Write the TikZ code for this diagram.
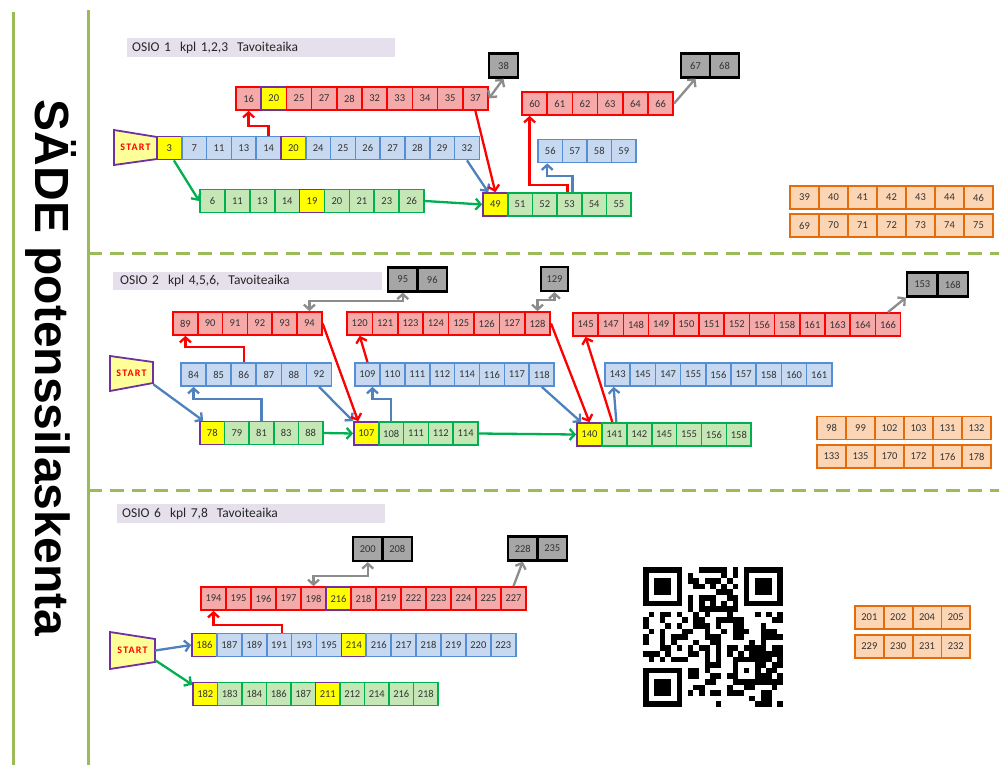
\documentclass[tikz,border=0pt]{standalone}
\usepackage{fontspec}
\setmainfont{Carlito}
\newfontfamily\bigsans{Liberation Sans}
\newfontfamily\startfont{Carlito}[LetterSpace=12]
\usetikzlibrary{arrows.meta}

\definecolor{redline}{HTML}{FF0000}
\definecolor{redfill}{HTML}{F5A9A9}
\definecolor{blueline}{HTML}{558ED5}
\definecolor{bluefill}{HTML}{C6D9F1}
\definecolor{greenline}{HTML}{00B050}
\definecolor{greenfill}{HTML}{C5E7B5}
\definecolor{purpleline}{HTML}{7030A0}
\definecolor{yelfill}{HTML}{FFFF00}
\definecolor{greyfill}{HTML}{A6A6A6}
\definecolor{orline}{HTML}{E46C0A}
\definecolor{orfill}{HTML}{FCD5B5}
\definecolor{startfill}{HTML}{FFFF99}
\definecolor{bluearrow}{HTML}{4F81BD}
\definecolor{greyarrow}{HTML}{8C8C8C}
\definecolor{limeline}{HTML}{9BBB59}
\definecolor{titlefill}{HTML}{E6E0EC}

\tikzset{
  cell/.style={draw, line width=1.7pt, minimum height=23pt, inner sep=0pt,
    font=\fontsize{10.5}{11}\selectfont, text=black!80},
  redcell/.style={draw=redline, fill=redfill},
  bluecell/.style={draw=blueline, fill=bluefill},
  greencell/.style={draw=greenline, fill=greenfill},
  yelcell/.style={draw=purpleline, fill=yelfill},
  greycell/.style={draw=black, fill=greyfill, line width=2.2pt, minimum height=24pt},
  orcell/.style={draw=orline, fill=orfill, line width=1.8pt},
  tip/.tip={Straight Barb[length=5pt,width=11pt]},
  arr/.style={line width=2.3pt, -tip},
  redarr/.style={arr, draw=redline},
  bluearr/.style={arr, draw=bluearrow},
  greenarr/.style={arr, draw=greenline},
  greyarr/.style={arr, draw=greyarrow},
  greydbl/.style={greyarr, tip-tip},
  titlebar/.style={fill=titlefill, anchor=west, minimum height=17pt, text width=258pt,
    inner xsep=5pt, align=left, font=\fontsize{13.5}{14}\selectfont, text=black!85},
  startbox/.style={minimum width=43pt, minimum height=35pt, inner sep=0pt,
    font=\startfont\bfseries\fontsize{10}{10}\selectfont, text=redline},
  startline/.style={draw=purpleline, fill=startfill, line width=1.8pt},
  sepline/.style={draw=limeline, line width=3pt},
  sepdash/.style={sepline, dash pattern=on 14pt off 8pt},
}

% one row of numbered cells: name, left x, centre y, cell width, label/style list
\newcommand{\cellrow}[5]{%
  \foreach \lab/\st [count=\i] in {#5} {
    \node[cell, \st, minimum width=#4pt] (#1-\i) at ({#2+(\i-0.5)*#4}, #3) {\lab};
  }%
}

\begin{document}
\begin{tikzpicture}[x=1pt, y=-1pt]  % pixel units, y downwards
  \fill[white] (0,0) rectangle (999,772);
  \useasboundingbox (0,0) rectangle (999,772);

  % frame and separators
  \draw[sepline] (13,12) -- (13,765);
  \draw[sepline] (88,10) -- (88,765);
  \draw[sepdash] (88,253) -- (999,253);
  \draw[sepdash] (88,490) -- (999,490);
  \node[rotate=-90, font=\bigsans\bfseries\fontsize{48}{48}\selectfont] (sade) at (51,368) {SÄDE potenssilaskenta};

  % ---------------- OSIO 1
  \node[titlebar] (osio1) at (127,47.5) {OSIO 1~~kpl 1,2,3~~Tavoiteaika};
  \coordinate (s1) at (135.5,147.5);
  \draw[startline, shift={(s1)}] (-21.5,-17.5) -- (21.5,-10.5) -- (21.5,11.5) -- (-21.5,17.5) -- cycle;
  \node[startbox] (start1) at (s1) {START};

  \cellrow{r1a}{236}{98.5}{25.2}{16/redcell,20/yelcell,25/redcell,27/redcell,28/redcell,32/redcell,33/redcell,34/redcell,35/redcell,37/redcell}
  \cellrow{k1a}{489}{65.5}{29}{38/greycell}
  \cellrow{b1a}{157}{148}{24.8}{3/yelcell,7/bluecell,11/bluecell,13/bluecell,14/bluecell,20/yelcell,24/bluecell,25/bluecell,26/bluecell,27/bluecell,28/bluecell,29/bluecell,32/bluecell}
  \cellrow{g1a}{200}{201}{24.9}{6/greencell,11/greencell,13/greencell,14/greencell,19/yelcell,20/greencell,21/greencell,23/greencell,26/greencell}
  \cellrow{g1b}{483}{204.5}{24.7}{49/yelcell,51/greencell,52/greencell,53/greencell,54/greencell,55/greencell}
  \cellrow{b1b}{538}{151}{24.5}{56/bluecell,57/bluecell,58/bluecell,59/bluecell}
  \cellrow{r1b}{522}{103.5}{25.2}{60/redcell,61/redcell,62/redcell,63/redcell,64/redcell,66/redcell}
  \cellrow{k1b}{681}{65.5}{29}{67/greycell,68/greycell}
  \cellrow{o1a}{790}{197.5}{29}{39/orcell,40/orcell,41/orcell,42/orcell,43/orcell,44/orcell,46/orcell}
  \cellrow{o1b}{790}{225.5}{29}{69/orcell,70/orcell,71/orcell,72/orcell,73/orcell,74/orcell,75/orcell}

  \draw[greydbl] (r1a-10.east) -- (k1a-1.south);
  \draw[redarr] (b1a-5.north) -- ++(0,-10) -| (r1a-1.south);
  \draw[greenarr] (b1a-1.-70) -- (g1a-1.west);
  \draw[greenarr] (g1a-9.east) -- (g1b-1.west);
  \draw[bluearr] (b1a-13.south) -- (g1b-1.120);
  \draw[redarr] (r1a-10.south) -- (g1b-1.north);
  \draw[redarr] ([xshift=-2pt]g1b-4.north) -- ++(0,-7) -| ([xshift=-5pt]r1b-1.south);
  \draw[bluearr] ([xshift=3pt]g1b-4.north) -- ++(0,-16) -| ([xshift=-3pt]b1b-1.south);
  \draw[greyarr] (r1b-6.east) -- (k1b-1.south);

  % ---------------- OSIO 2
  \node[titlebar, inner xsep=7pt, text width=255pt] (osio2) at (113,281) {OSIO 2~~kpl 4,5,6,~~Tavoiteaika};
  \coordinate (s2) at (131.5,373.5);
  \draw[startline, shift={(s2)}] (-21.5,-17.5) -- (21.5,-11.5) -- (21.5,9.5) -- (-21.5,17.5) -- cycle;
  \node[startbox] (start2) at (s2) {START};

  \cellrow{k2a}{388}{279.5}{29.5}{95/greycell,96/greycell}
  \cellrow{r2a}{173}{323.5}{24.8}{89/redcell,90/redcell,91/redcell,92/redcell,93/redcell,94/redcell}
  \cellrow{b2a}{181}{374.5}{25.1}{84/bluecell,85/bluecell,86/bluecell,87/bluecell,88/bluecell,92/bluecell}
  \cellrow{g2a}{200}{433}{24.6}{78/yelcell,79/greencell,81/greencell,83/greencell,88/greencell}
  \cellrow{g2b}{354}{433.5}{24.8}{107/yelcell,108/greencell,111/greencell,112/greencell,114/greencell}
  \cellrow{r2b}{347}{323.5}{25.4}{120/redcell,121/redcell,123/redcell,124/redcell,125/redcell,126/redcell,127/redcell,128/redcell}
  \cellrow{b2b}{355}{374.5}{24.9}{109/bluecell,110/bluecell,111/bluecell,112/bluecell,114/bluecell,116/bluecell,117/bluecell,118/bluecell}
  \cellrow{k2b}{541}{279}{27}{129/greycell}
  \cellrow{r2c}{573}{324.5}{25.2}{145/redcell,147/redcell,148/redcell,149/redcell,150/redcell,151/redcell,152/redcell,156/redcell,158/redcell,161/redcell,163/redcell,164/redcell,166/redcell}
  \cellrow{k2c}{907}{284.5}{30.5}{153/greycell,168/greycell}
  \cellrow{b2c}{605}{374.5}{25.2}{143/bluecell,145/bluecell,147/bluecell,155/bluecell,156/bluecell,157/bluecell,158/bluecell,160/bluecell,161/bluecell}
  \cellrow{g2c}{577}{434.5}{24.9}{140/yelcell,141/greencell,142/greencell,145/greencell,155/greencell,156/greencell,158/greencell}
  \cellrow{o2a}{817}{428}{29}{98/orcell,99/orcell,102/orcell,103/orcell,131/orcell,132/orcell}
  \cellrow{o2b}{817}{456.5}{29}{133/orcell,135/orcell,170/orcell,172/orcell,176/orcell,178/orcell}

  \draw[greydbl] (r2a-6.north) -- ++(0,-10) -| (k2a-1.south);
  \draw[redarr] (b2a-3.north) -- ++(0,-15) -| (r2a-1.south);
  \draw[bluearr] ([yshift=7pt]start2.south east) -- ([xshift=4pt]g2a-1.north west);
  \draw[bluearr] (g2a-3.north) -- ++(0,-22) -| (b2a-1.south);
  \draw[greenarr] (g2a-5.east) -- (g2b-1.west);
  \draw[bluearr] (b2a-6.south) -- (g2b-1.north west);
  \draw[redarr] (r2a-6.east) -- ([xshift=5pt]g2b-1.north west);
  \draw[redarr] (b2b-1.north) -- (r2b-1.south);
  \draw[bluearr] (g2b-2.north) -- ++(0,-22) -| ([xshift=5pt]b2b-1.south);
  \draw[greenarr] (g2b-5.east) -- (g2c-1.west);
  \draw[greydbl] (r2b-8.north) -- ++(0,-11) -| (k2b-1.south);
  \draw[redarr] (r2b-8.east) -- (g2c-1.north);
  \draw[bluearr] (b2b-8.south) -- ([xshift=5pt]g2c-1.north west);
  \draw[redarr] ([xshift=-2pt]g2c-2.north) -- (r2c-1.south);
  \draw[bluearr] ([xshift=2pt]g2c-2.north) -- ([xshift=-4pt]b2c-1.south);
  \draw[greyarr] (r2c-13.north) -- (k2c-1.south west);

  % ---------------- OSIO 6
  \node[titlebar, text width=258pt] (osio6) at (117,513.5) {OSIO 6~~kpl 7,8~~Tavoiteaika};
  \coordinate (s3) at (132.5,650.5);
  \draw[startline, shift={(s3)}] (-22.5,-18.5) -- (22.5,-11.5) -- (22.5,11.5) -- (-22.5,18.5) -- cycle;
  \node[startbox, minimum width=45pt, minimum height=37pt] (start3) at (s3) {START};

  \cellrow{k3a}{353}{549}{29.5}{200/greycell,208/greycell}
  \cellrow{r3}{201}{598.5}{25}{194/redcell,195/redcell,196/redcell,197/redcell,198/redcell,216/yelcell,218/redcell,219/redcell,222/redcell,223/redcell,224/redcell,225/redcell,227/redcell}
  \cellrow{k3b}{508}{548.5}{29.5}{228/greycell,235/greycell}
  \cellrow{b3}{192}{645}{24.9}{186/yelcell,187/bluecell,189/bluecell,191/bluecell,193/bluecell,195/bluecell,214/yelcell,216/bluecell,217/bluecell,218/bluecell,219/bluecell,220/bluecell,223/bluecell}
  \cellrow{g3}{193}{694}{24.5}{182/yelcell,183/greencell,184/greencell,186/greencell,187/greencell,211/yelcell,212/greencell,214/greencell,216/greencell,218/greencell}
  \cellrow{o3a}{855}{617.5}{28.8}{201/orcell,202/orcell,204/orcell,205/orcell}
  \cellrow{o3b}{855}{646.5}{28.8}{229/orcell,230/orcell,231/orcell,232/orcell}

  \draw[greydbl] (r3-5.north) -- ++(0,-10) -| (k3a-1.south);
  \draw[greyarr] (r3-13.north) -- (k3b-1.south);
  \draw[redarr] ([xshift=3pt]b3-4.north) -- ++(0,-8) -| (r3-1.south);
  \draw[bluearr] (start3.east) -- (b3-1.west);
  \draw[greenarr] ([yshift=9pt]start3.south east) -- ([yshift=-3pt]g3-1.north west);

  % ---------------- QR code
  \def\qx{643}\def\qy{567}\def\qm{5.6}
  \foreach \fx/\fy in {0/0,18/0,0/18} {
    \fill[black] ({\qx+\fx*\qm},{\qy+\fy*\qm}) rectangle ++(7*\qm,7*\qm);
    \fill[white] ({\qx+(\fx+1)*\qm},{\qy+(\fy+1)*\qm}) rectangle ++(5*\qm,5*\qm);
    \fill[black] ({\qx+(\fx+2)*\qm},{\qy+(\fy+2)*\qm}) rectangle ++(3*\qm,3*\qm);
  }
  \fill[black] ({\qx+16*\qm},{\qy+16*\qm}) rectangle ++(5*\qm,5*\qm);
  \fill[white] ({\qx+17*\qm},{\qy+17*\qm}) rectangle ++(3*\qm,3*\qm);
  \fill[black] ({\qx+18*\qm},{\qy+18*\qm}) rectangle ++(\qm,\qm);
  \foreach \k in {8,10,...,16} {
    \fill[black] ({\qx+\k*\qm},{\qy+6*\qm}) rectangle ++(\qm,\qm);
    \fill[black] ({\qx+6*\qm},{\qy+\k*\qm}) rectangle ++(\qm,\qm);
  }
  \pgfmathsetseed{42}
  \foreach \r in {0,...,24} {
    \foreach \c in {0,...,24} {
      \pgfmathtruncatemacro{\busy}{((\r<8)&&(\c<8)) || ((\r<8)&&(\c>16)) || ((\r>16)&&(\c<8)) || ((\r>15)&&(\r<21)&&(\c>15)&&(\c<21)) || (\r==6) || (\c==6)}
      \ifnum\busy=0
        \pgfmathrandominteger{\bit}{0}{1}
        \ifnum\bit=1 \fill[black] ({\qx+\c*\qm},{\qy+\r*\qm}) rectangle ++(\qm,\qm); \fi
      \fi
    }
  }
\end{tikzpicture}
\end{document}
